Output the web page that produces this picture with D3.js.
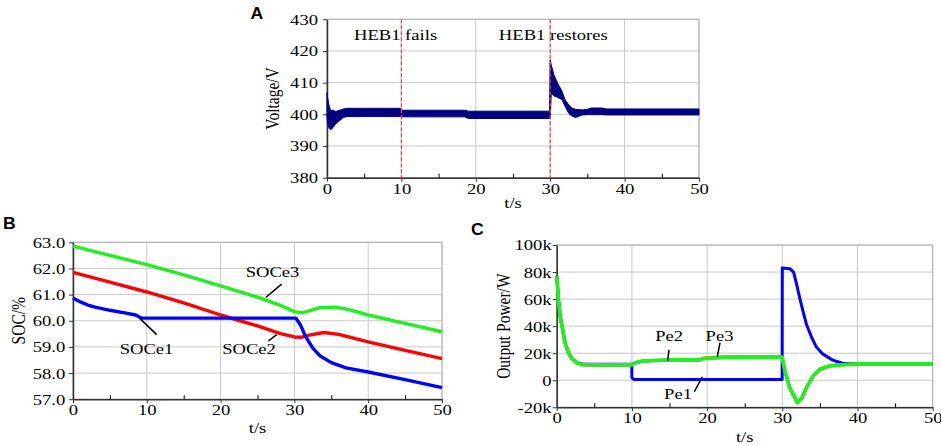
<!DOCTYPE html>
<html>
<head>
<meta charset="utf-8">
<script src="https://cdn.jsdelivr.net/npm/d3@7"></script>
<style>
  body { margin: 0; background: #fff; }
  svg { display: block; }
</style>
</head>
<body>
<div id="chart"></div>
<script>
// ---- data ----
const timeTicks = [0, 10, 20, 30, 40, 50];
const minorTicks = [5, 15, 25, 35, 45];
const eventTimes = [10, 30];

// A: DC bus voltage band (upper / lower edge of the noisy trace)
const tA = [0, 0.1, 0.3, 0.5, 0.8, 1.2, 1.7, 2.2, 2.7, 9.9, 10.0, 10.1, 18.5, 19.0, 29.9, 30.0,
  30.15, 30.5, 30.9, 31.6, 32.0, 32.5, 32.9, 33.4, 34.3, 35.0, 35.5, 37.0, 37.5, 50];
const vHigh = [406.8, 405, 402.5, 401.2, 401.3, 400.9, 401.3, 401.7, 401.9, 401.9, 401.5, 401.3, 401.3, 401.0, 401.0, 417.2,
  415.5, 412.5, 410.3, 407.2, 404.6, 403.0, 402.0, 401.6, 401.4, 401.6, 402.0, 402.0, 401.7, 401.7];
const vLow = [399, 397, 395.5, 395.2, 395.8, 397.1, 398.0, 399.0, 399.3, 399.3, 399.0, 399.2, 399.2, 398.7, 398.7, 398.7,
  406.7, 405.8, 405.5, 404.6, 402.5, 400.3, 399.5, 399.0, 399.8, 399.9, 399.9, 399.9, 399.8, 399.8];
const voltTicks = [380, 390, 400, 410, 420, 430];

// B: state of charge
const soc3T = [0, 5, 10, 15, 20, 25, 28, 30, 31, 32, 33.5, 35.5, 37, 40, 45, 50];
const soc3 = [62.85, 62.5, 62.15, 61.75, 61.33, 60.9, 60.6, 60.35, 60.3, 60.38, 60.5, 60.52, 60.45, 60.22, 59.9, 59.58];
const soc2T = [0, 5, 10, 15, 20, 25, 28, 30, 31, 32, 34, 36, 40, 45, 50];
const soc2 = [61.85, 61.48, 61.1, 60.68, 60.22, 59.8, 59.52, 59.38, 59.37, 59.45, 59.55, 59.48, 59.19, 58.87, 58.55];
const soc1T = [0, 1, 2, 3, 5, 7, 8.5, 9.3, 30.2, 30.8, 31.5, 32.5, 33.5, 35, 37, 40, 45, 50];
const soc1 = [60.87, 60.72, 60.6, 60.52, 60.4, 60.3, 60.22, 60.1, 60.1, 59.85, 59.4, 58.95, 58.65, 58.4, 58.2, 58.04, 57.75, 57.44];
const socTicks = [57, 58, 59, 60, 61, 62, 63];

// C: output power (kW)
const pe1T = [0, 0.1, 0.25, 0.5, 0.8, 1.1, 1.5, 2.0, 2.7, 3.4, 5, 9.98, 10.0, 10.3, 29.98, 30.0,
  31.0, 31.5, 31.9, 32.35, 32.8, 33.2, 33.9, 34.5, 35.4, 36.7, 38, 39.8, 50];
const pe1 = [77, 70, 58, 46, 37, 28, 21, 16, 13, 12, 11.8, 11.8, 2, 0.5, 0.5, 83,
  82.5, 80, 71, 60, 50, 41.6, 31.7, 24.8, 19.3, 14.9, 12.6, 12, 12];
const pe23T = [0, 0.1, 0.25, 0.5, 0.8, 1.1, 1.5, 2.0, 2.7, 3.4, 5, 9.9, 10.5, 11.5, 15, 19, 19.5, 22, 29.98,
  30.35, 31, 32, 32.6, 33.2, 34.1, 35, 36.3, 37.7, 40, 50];
const pe2 = [77, 70, 58, 46, 37, 28, 21, 16, 13, 11.5, 11.3, 11.3, 13, 14.3, 15, 15, 16.2, 17.2, 17.2,
  6.5, -6, -16.4, -13.2, -5.8, 3, 8, 10.5, 11.4, 12.2, 12];
const pe3 = [77, 70, 58, 46, 37, 28, 21, 16, 13, 11.5, 11.3, 11.3, 13, 14.3, 15, 15, 16, 16.8, 17,
  6.9, -5.5, -16.6, -13, -5.5, 3.2, 8.2, 10.6, 11.4, 12, 12];
const powerTicks = [-20, 0, 20, 40, 60, 80, 100];

// ---- drawing ----
const serif = '"Times New Roman", "Liberation Serif", serif';
const K = 1.2; // the figure text is stretched sideways

const svg = d3.select("#chart").append("svg")
  .attr("width", 941).attr("height", 446)
  .style("background", "#fff");

function panel(p) {
  const x = d3.scaleLinear().domain([0, 50]).range([p.left, p.right]);
  const y = d3.scaleLinear().domain(p.yDomain).range([p.bottom, p.top]);
  const g = svg.append("g");

  g.append("g").selectAll("line").data(timeTicks).join("line")
    .attr("x1", d => x(d)).attr("x2", d => x(d))
    .attr("y1", p.top).attr("y2", p.bottom)
    .attr("stroke", "#c8c8c8");
  g.append("g").selectAll("line").data(p.yTicks).join("line")
    .attr("x1", p.left).attr("x2", p.right)
    .attr("y1", d => y(d)).attr("y2", d => y(d))
    .attr("stroke", "#c8c8c8");
  g.append("rect")
    .attr("x", p.left).attr("y", p.top)
    .attr("width", p.right - p.left).attr("height", p.bottom - p.top)
    .attr("fill", "none").attr("stroke", "#b0b0b0");

  const xa = g.append("g").attr("transform", `translate(0,${p.bottom})`)
    .call(d3.axisBottom(x).tickValues(timeTicks).tickSize(4).tickSizeOuter(0)
      .tickPadding(1).tickFormat(d3.format("d")));
  g.append("g").attr("transform", `translate(0,${p.bottom})`)
    .call(d3.axisBottom(x).tickValues(minorTicks).tickSize(-4).tickSizeOuter(0).tickFormat(""))
    .select(".domain").remove();
  const ya = g.append("g").attr("transform", `translate(${p.left},0)`)
    .call(d3.axisLeft(y).tickValues(p.yTicks).tickSize(4).tickSizeOuter(0)
      .tickPadding(p.yPad).tickFormat(p.yFmt));

  [xa, ya].forEach(a => {
    a.attr("font-family", serif);
    a.select(".domain").attr("stroke", "#333").attr("stroke-width", 1.5);
    a.selectAll(".tick line").attr("stroke", "#333");
    a.selectAll("text")
      .attr("font-family", serif).attr("font-size", 15.5).attr("fill", "#000")
      .attr("transform", `scale(${K},1)`);
  });

  // axis titles
  g.append("text")
    .attr("transform", `translate(${(p.left + p.right) / 2},${p.xTitleY}) scale(${K},1)`)
    .attr("text-anchor", "middle")
    .attr("font-family", serif).attr("font-size", 15.5).attr("fill", "#000")
    .text("t/s");
  g.append("text")
    .attr("transform", `translate(${p.yTitleX},${(p.top + p.bottom) / 2}) scale(${K},1) rotate(-90)`)
    .attr("text-anchor", "middle")
    .attr("font-family", serif).attr("font-size", 15.5).attr("fill", "#000")
    .text(p.yTitle);
  // panel letter
  g.append("text")
    .attr("transform", `translate(${p.tag[0]},${p.tag[1]}) scale(1.1,1)`)
    .attr("font-family", "Arial, 'Liberation Sans', sans-serif")
    .attr("font-weight", "bold").attr("font-size", 16).attr("fill", "#000")
    .text(p.tagText);

  return { x, y, g };
}

function series(pn, ts, vs, color, width) {
  pn.g.append("path")
    .datum(ts.map((t, i) => [t, vs[i]]))
    .attr("fill", "none").attr("stroke", color).attr("stroke-width", width)
    .attr("stroke-linejoin", "round")
    .attr("d", d3.line().x(d => pn.x(d[0])).y(d => pn.y(d[1])));
}

function note(pn, txt, tx, ty, leader) {
  pn.g.append("text")
    .attr("transform", `translate(${pn.x(tx)},${pn.y(ty)}) scale(${K},1)`)
    .attr("text-anchor", "middle")
    .attr("font-family", serif).attr("font-size", 15.5).attr("fill", "#000")
    .text(txt);
  if (leader) {
    pn.g.append("line")
      .attr("x1", pn.x(leader[0])).attr("y1", pn.y(leader[1]))
      .attr("x2", pn.x(leader[2])).attr("y2", pn.y(leader[3]))
      .attr("stroke", "#000").attr("stroke-width", 1.5);
  }
}

// Panel A
const A = panel({
  left: 327, right: 699, top: 19.3, bottom: 177.7,
  yDomain: [380, 430], yTicks: voltTicks, yFmt: d3.format("d"), yPad: 3.5,
  xTitleY: 208, yTitle: "Voltage/V", yTitleX: 279,
  tag: [250.5, 18.5], tagText: "A"
});
A.g.append("path")
  .datum(tA.map((t, i) => [t, vHigh[i], vLow[i]]))
  .attr("fill", "#000080").attr("stroke", "#000080").attr("stroke-width", 1)
  .attr("d", d3.area().x(d => A.x(d[0])).y0(d => A.y(d[2])).y1(d => A.y(d[1])));
A.g.append("g").selectAll("line").data(eventTimes).join("line")
  .attr("x1", d => A.x(d)).attr("x2", d => A.x(d))
  .attr("y1", A.y(430)).attr("y2", A.y(380))
  .attr("stroke", "#ff4040").attr("stroke-width", 1.2).attr("stroke-dasharray", "4,2");
A.g.append("text")
  .attr("transform", `translate(${A.x(3.63)},${A.y(423.5)}) scale(${K},1)`)
  .attr("font-family", serif).attr("font-size", 15.5).attr("fill", "#000")
  .text("HEB1 fails");
A.g.append("text")
  .attr("transform", `translate(${A.x(23.1)},${A.y(423.5)}) scale(${K},1)`)
  .attr("font-family", serif).attr("font-size", 15.5).attr("fill", "#000")
  .text("HEB1 restores");

// Panel B
const B = panel({
  left: 73, right: 442, top: 242.3, bottom: 399.2,
  yDomain: [57, 63], yTicks: socTicks, yFmt: d3.format(".1f"), yPad: 2.5,
  xTitleY: 433, yTitle: "SOC/%", yTitleX: 25,
  tag: [3, 228.5], tagText: "B"
});
series(B, soc3T, soc3, "#22ee22", 3.4);
series(B, soc2T, soc2, "#ff0000", 3.4);
series(B, soc1T, soc1, "#0000ff", 3.4);
note(B, "SOCe1", 9.96, 58.73, [9.08, 60.08, 11.34, 59.47]);
note(B, "SOCe2", 23.85, 58.73, [26.46, 59.22, 27.6, 59.47]);
note(B, "SOCe3", 27.03, 61.68, [28.27, 61.4, 26.15, 60.9]);

// Panel C
const C = panel({
  left: 556.7, right: 932.7, top: 245, bottom: 407.3,
  yDomain: [-20, 100], yTicks: powerTicks, yFmt: d => d === 0 ? "0" : d + "k", yPad: 0.2,
  xTitleY: 442, yTitle: "Output Power/W", yTitleX: 510,
  tag: [471, 235], tagText: "C"
});
series(C, pe1T, pe1, "#0000ff", 3);
series(C, pe23T, pe2, "#ff0000", 3);
series(C, pe23T, pe3, "#22ee22", 3.8);
note(C, "Pe2", 14.95, 29.2, [14.93, 22.4, 14.76, 14.5]);
note(C, "Pe3", 21.65, 29.2, [21.72, 27.8, 21.36, 17.4]);
note(C, "Pe1", 16.13, -13.9, [18.3, -8.5, 19.36, 2.6]);
</script>
</body>
</html>
